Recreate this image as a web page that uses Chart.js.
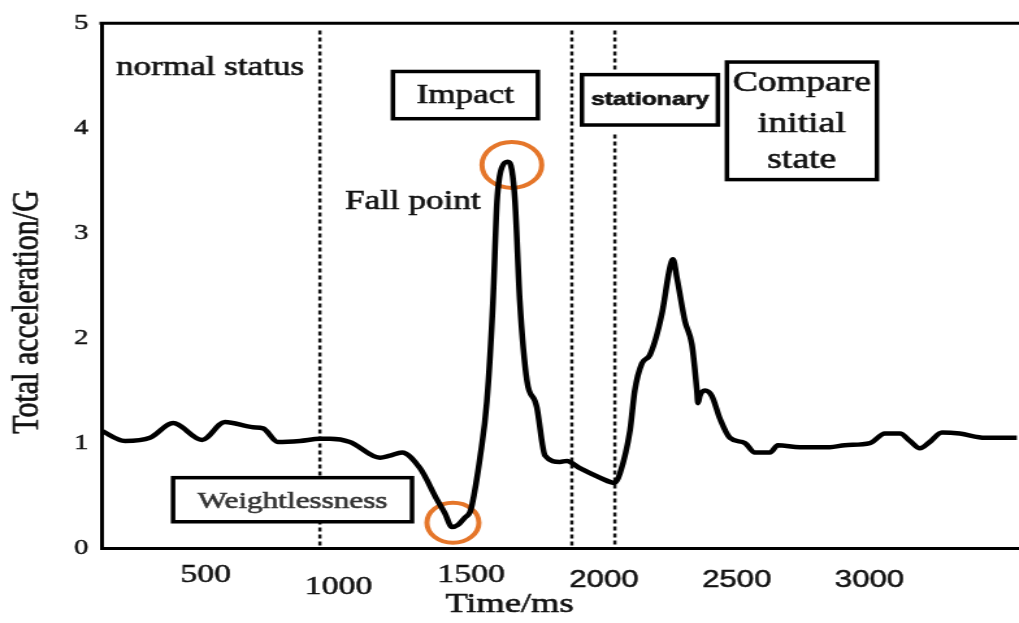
<!DOCTYPE html>
<html>
<head>
<meta charset="utf-8">
<title>Total acceleration during a fall</title>
<script src="https://cdn.jsdelivr.net/npm/chart.js@4/dist/chart.umd.min.js"></script>
<style>
    html, body { margin: 0; padding: 0; background: #fff; overflow: hidden; }
    /* the source figure is a scan stretched sideways, so the whole canvas is too */
    #wrap { width: 784px; height: 623px; transform: scaleX(1.2997); transform-origin: 0 0; }
</style>
</head>
<body>
<div id="wrap"><canvas id="fallChart" width="784" height="623"></canvas></div>
<script>
// Curve: time (ms) and total acceleration (G)
const timeMs = [105, 196, 290, 377, 486, 572, 678, 716, 772, 855, 930, 968, 1043, 1156, 1194, 1239,
    1307, 1371, 1401, 1427, 1450, 1476, 1495, 1503, 1533, 1559, 1582, 1597, 1616, 1638, 1653, 1665,
    1683, 1710, 1740, 1747, 1778, 1834, 1860, 1909, 1985, 2041, 2060, 2098, 2116, 2143, 2173, 2218,
    2248, 2260, 2275, 2305, 2331, 2350, 2354, 2361, 2380, 2406, 2437, 2474, 2531, 2568, 2625, 2655,
    2738, 2851, 2907, 3002, 3058, 3115, 3152, 3190, 3227, 3273, 3340, 3435, 3555];
const accelG = [1.12, 1.02, 1.05, 1.19, 1.03, 1.20, 1.15, 1.14, 1.01, 1.02, 1.04, 1.04, 1.01, 0.86, 0.88, 0.91,
    0.76, 0.46, 0.33, 0.20, 0.22, 0.29, 0.34, 0.41, 0.86, 1.40, 2.35, 3.30, 3.63, 3.68, 3.60, 3.30,
    2.35, 1.59, 1.40, 1.34, 0.88, 0.82, 0.83, 0.76, 0.67, 0.62, 0.71, 1.12, 1.50, 1.76, 1.84, 2.23,
    2.67, 2.75, 2.57, 2.16, 1.94, 1.50, 1.38, 1.45, 1.50, 1.45, 1.23, 1.05, 1.00, 0.91, 0.91, 0.98,
    0.96, 0.96, 0.98, 1.00, 1.09, 1.09, 1.02, 0.95, 1.01, 1.10, 1.09, 1.05, 1.05];

// Circled points: weightlessness minimum and fall point peak
const markTime = [1431, 1653];
const markAccel = [0.24, 3.65];

// Dotted phase boundaries (ms)
const phaseLines = [930, 1879, 2041];

const xTickValues = [500, 1000, 1500, 2000, 2500, 3000];
const yTickValues = [0, 1, 2, 3, 4, 5];

const SERIF = '"Liberation Serif", "Times New Roman", serif';
const SANS = '"Liberation Sans", Arial, sans-serif';

// Text notes on the plot (positions in data units)
const notes = [
    { lines: ['normal status'], x: 516, y: [4.57], font: '27px ' + SERIF },
    { lines: ['Fall point'], x: 1280, y: [3.30], font: '27px ' + SERIF },
    { lines: ['Impact'], x: 1478, y: [4.31], font: '27px ' + SERIF, box: [1205, 1751, 4.54, 4.09] },
    { lines: ['stationary'], x: 2173, y: [4.27], font: 'bold 19px ' + SANS, box: [1917, 2429, 4.51, 4.03] },
    { lines: ['Compare', 'initial', 'state'], x: 2745, y: [4.43, 4.04, 3.69], font: '29px ' + SERIF, box: [2463, 3028, 4.63, 3.51] },
    { lines: ['Weightlessness'], x: 827, y: [0.44], font: '24px ' + SERIF, color: '#333', box: [377, 1277, 0.67, 0.25] }
];

function buildDatasets() {
    const sets = [{
        label: 'Total acceleration',
        data: timeMs.map((t, i) => ({ x: t, y: accelG[i] })),
        borderColor: '#000',
        borderWidth: 4.5,
        pointRadius: 0,
        cubicInterpolationMode: 'monotone',
        fill: false
    }];

    sets.push({
        label: 'Marks',
        data: markTime.map((t, i) => ({ x: t, y: markAccel[i] })),
        showLine: false,
        pointRadius: [20, 23],
        pointBorderWidth: 4,
        pointBorderColor: '#E5762A',
        pointBackgroundColor: 'rgba(0,0,0,0)'
    });

    phaseLines.forEach((t, i) => {
        // the last line stops around the "stationary" box
        const pts = i === 2
            ? [{ x: t, y: 4.93 }, { x: t, y: 4.55 }, { x: t, y: null }, { x: t, y: 3.94 }, { x: t, y: 0 }]
            : [{ x: t, y: 4.93 }, { x: t, y: 0 }];
        sets.push({
            label: 'phase ' + (i + 1),
            data: pts,
            borderColor: '#111',
            borderWidth: 2.5,
            borderDash: [4, 3],
            pointRadius: 0,
            spanGaps: false
        });
    });
    return sets;
}

// fill plus a thin outline, to get the heavier look of the scanned lettering
function inkText(ctx, text, x, y, color) {
    ctx.fillStyle = color;
    ctx.strokeStyle = color;
    ctx.lineWidth = 0.6;
    ctx.strokeText(text, x, y);
    ctx.fillText(text, x, y);
}

const notesPlugin = {
    id: 'notes',
    beforeDatasetsDraw(chart) {
        // top frame line
        const { ctx, chartArea } = chart;
        ctx.save();
        ctx.strokeStyle = '#000';
        ctx.lineWidth = 3;
        ctx.beginPath();
        ctx.moveTo(chartArea.left - 1.5, chartArea.top);
        ctx.lineTo(chartArea.right, chartArea.top);
        ctx.stroke();
        ctx.restore();
    },
    afterDatasetsDraw(chart) {
        const { ctx } = chart;
        const xs = chart.scales.x, ys = chart.scales.y;
        ctx.save();
        notes.forEach(n => {
            if (n.box) {
                const x0 = xs.getPixelForValue(n.box[0]), x1 = xs.getPixelForValue(n.box[1]);
                const y0 = ys.getPixelForValue(n.box[2]), y1 = ys.getPixelForValue(n.box[3]);
                ctx.fillStyle = '#fff';
                ctx.fillRect(x0, y0, x1 - x0, y1 - y0);
                ctx.lineWidth = 3.5;
                ctx.strokeStyle = '#000';
                ctx.strokeRect(x0, y0, x1 - x0, y1 - y0);
            }
            ctx.font = n.font;
            ctx.textAlign = 'center';
            ctx.textBaseline = 'middle';
            n.lines.forEach((line, i) => {
                inkText(ctx, line, xs.getPixelForValue(n.x), ys.getPixelForValue(n.y[i]), n.color || '#111');
            });
        });
        ctx.restore();
    },
    afterDraw(chart) {
        const { ctx } = chart;
        ctx.save();
        ctx.textAlign = 'center';
        ctx.textBaseline = 'middle';
        ctx.font = '28px ' + SERIF;
        inkText(ctx, 'Time/ms', 392, 605, '#111');
        ctx.translate(21, 312);
        ctx.rotate(-Math.PI / 2);
        ctx.font = '30px ' + SERIF;
        inkText(ctx, 'Total acceleration/G', 0, 0, '#111');
        ctx.restore();
    }
};

document.addEventListener('DOMContentLoaded', function() {
    const ctx = document.getElementById('fallChart');
    new Chart(ctx, {
        type: 'line',
        data: { datasets: buildDatasets() },
        options: {
            responsive: false,
            animation: false,
            devicePixelRatio: 1,
            layout: { autoPadding: false, padding: { top: 20, left: 0, right: 0, bottom: 0 } },
            plugins: {
                legend: { display: false },
                tooltip: { enabled: false }
            },
            scales: {
                x: {
                    type: 'linear',
                    min: 107,
                    max: 3563,
                    grid: { display: false, drawTicks: false },
                    border: { display: true, color: '#000', width: 3 },
                    afterBuildTicks: scale => { scale.ticks = xTickValues.map(v => ({ value: v })); },
                    afterFit: scale => {
                        scale.height = 75;
                        scale.paddingLeft = 0;
                        scale.paddingRight = 0;
                    },
                    ticks: {
                        padding: 12,
                        color: '#111',
                        textStrokeColor: '#111',
                        textStrokeWidth: 0.5,
                        maxRotation: 0,
                        autoSkip: false,
                        callback: v => v === 1000 ? ['', '1000'] : String(v),
                        font: c => {
                            const v = c.tick && c.tick.value;
                            if (v >= 2000) return { family: SANS, size: 24, lineHeight: 1.667 };
                            if (v === 1000) return { family: SERIF, size: 26, lineHeight: '18px' };
                            return { family: SERIF, size: 26, lineHeight: 1.2 };
                        }
                    }
                },
                y: {
                    min: 0,
                    max: 5,
                    grid: { display: false, drawTicks: false },
                    border: { display: true, color: '#000', width: 3 },
                    afterBuildTicks: scale => { scale.ticks = yTickValues.map(v => ({ value: v })); },
                    afterFit: scale => { scale.width = 78; },
                    ticks: {
                        padding: 10,
                        color: '#111',
                        textStrokeColor: '#111',
                        textStrokeWidth: 0.5,
                        font: { family: SERIF, size: 22 }
                    }
                }
            }
        },
        plugins: [notesPlugin]
    });
});
</script>
</body>
</html>
